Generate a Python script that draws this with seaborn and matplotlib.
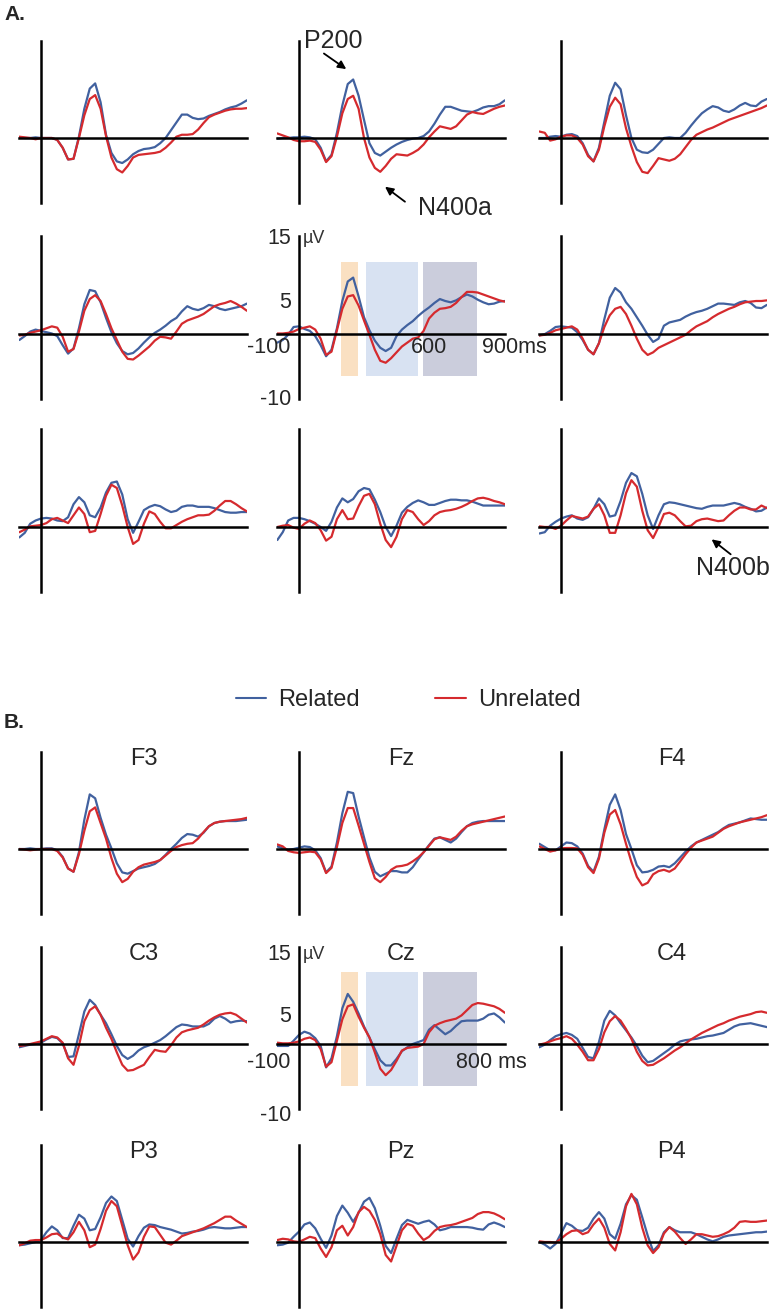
import numpy as np
import pandas as pd
import matplotlib
matplotlib.use("Agg")
import matplotlib.pyplot as plt
from matplotlib.lines import Line2D
import seaborn as sns

# time axis (ms), one sample every 25 ms
times = list(range(-100, 951, 25))

# --- A. nine unlabelled sites (row by row), related / unrelated (uV)
a1_rel = [0.1, 0.0, 0.0, 0.1, 0.0, 0.0, 0.0, -0.3, -1.5, -3.3, -3.2, 0.2, 4.5, 7.6, 8.4, 5.5, 0.5, -2.3, -3.6, -3.85, -3.3, -2.5, -2.0, -1.7, -1.6, -1.4, -0.8, 0.0, 1.2, 2.4, 3.6, 3.6, 3.1, 2.9, 3.0, 3.4, 3.7, 4.0, 4.4, 4.7, 4.9, 5.3, 5.8]
a1_unr = [0.2, 0.1, 0.0, -0.2, 0.0, 0.0, 0.0, -0.3, -1.5, -3.3, -3.2, 0.0, 3.5, 6.0, 6.6, 4.5, 0.3, -3.0, -4.8, -5.3, -4.3, -3.0, -2.6, -2.5, -2.4, -2.3, -2.1, -1.5, -0.7, 0.2, 0.5, 0.5, 0.6, 1.3, 2.3, 3.2, 3.6, 3.9, 4.2, 4.4, 4.5, 4.5, 4.6]
a2_rel = [-0.1, 0.0, 0.0, 0.1, 0.1, 0.2, 0.1, -0.2, -1.5, -3.6, -2.6, 0.8, 5.0, 8.3, 9.0, 6.5, 2.8, -0.8, -2.3, -2.7, -2.1, -1.5, -1.0, -0.6, -0.3, -0.1, 0.0, 0.3, 1.0, 2.2, 3.6, 4.8, 4.8, 4.5, 4.2, 4.1, 4.0, 4.3, 4.7, 4.9, 4.9, 5.2, 5.8]
a2_unr = [0.7, 0.4, 0.1, -0.3, -0.5, -0.5, -0.4, -0.6, -1.8, -3.7, -2.8, 0.2, 3.8, 6.0, 6.5, 4.5, 0.0, -3.0, -4.6, -5.2, -4.3, -3.2, -2.5, -2.6, -2.7, -2.3, -1.8, -1.0, 0.1, 1.0, 1.8, 1.6, 1.4, 1.8, 2.7, 3.6, 4.0, 3.8, 3.7, 4.1, 4.5, 4.8, 5.0]
a3_rel = [0.0, 0.0, 0.2, 0.3, 0.2, 0.5, 0.6, 0.3, -0.8, -2.6, -3.6, -1.5, 2.5, 6.5, 8.5, 7.5, 3.5, 0.0, -1.8, -2.2, -2.3, -1.8, -0.9, 0.0, 0.1, 0.0, 0.0, 0.8, 1.9, 2.9, 3.8, 4.4, 4.9, 4.7, 4.2, 4.0, 4.4, 5.0, 5.4, 5.0, 4.9, 5.6, 6.0]
a3_unr = [1.0, 0.8, -0.4, -0.2, 0.2, 0.4, 0.4, 0.0, -1.0, -2.8, -3.6, -1.8, 1.8, 4.8, 6.2, 5.2, 1.5, -1.3, -3.7, -5.2, -5.4, -4.3, -3.1, -3.3, -3.5, -3.2, -2.5, -1.4, -0.3, 0.5, 0.9, 1.3, 1.6, 2.0, 2.4, 2.8, 3.1, 3.4, 3.7, 4.0, 4.3, 4.6, 5.0]
a4_rel = [-1.0, -0.4, 0.3, 0.6, 0.4, 0.2, 0.0, -0.4, -1.8, -3.1, -2.3, 0.8, 4.5, 6.7, 6.5, 4.8, 2.4, 0.2, -1.5, -2.7, -3.2, -3.0, -2.3, -1.4, -0.6, 0.1, 0.6, 1.2, 1.9, 2.4, 3.4, 4.2, 3.8, 3.6, 3.9, 4.4, 4.2, 3.8, 3.6, 3.8, 4.0, 4.2, 4.6]
a4_unr = [-0.3, -0.2, 0.1, 0.3, 0.5, 0.8, 1.1, 0.9, -0.5, -2.8, -2.4, 0.3, 3.5, 5.3, 5.9, 5.0, 3.0, 0.8, -1.0, -2.8, -3.9, -4.0, -3.4, -2.7, -2.0, -1.1, -0.5, -0.6, -0.8, 0.3, 1.5, 2.0, 2.3, 2.6, 3.0, 3.6, 4.2, 4.5, 4.7, 5.0, 4.6, 4.1, 3.5]
a5_rel = [-1.4, -1.0, -0.2, 1.0, 1.1, 0.7, 0.4, -0.4, -1.8, -3.5, -2.5, 0.8, 5.0, 8.0, 8.6, 5.7, 2.5, 0.5, -1.1, -2.2, -2.7, -2.2, -0.4, 0.6, 1.3, 1.9, 2.7, 3.4, 4.0, 4.7, 5.3, 5.0, 4.8, 5.1, 5.6, 6.0, 5.7, 5.2, 4.8, 4.5, 4.6, 4.9, 5.0]
a5_unr = [0.0, 0.0, 0.1, 0.3, 0.7, 0.9, 1.1, 0.6, -0.8, -3.3, -2.8, 0.5, 3.8, 5.7, 5.9, 4.3, 2.0, -0.2, -2.5, -4.2, -4.5, -3.8, -2.9, -2.0, -1.4, -0.8, -0.6, 0.4, 2.3, 3.2, 3.8, 3.9, 4.1, 4.7, 5.6, 6.4, 6.4, 6.3, 6.0, 5.7, 5.4, 5.1, 4.9]
a6_rel = [-0.3, -0.1, 0.4, 1.0, 1.1, 1.0, 0.9, 0.2, -1.0, -2.5, -3.2, -1.5, 2.2, 5.5, 7.0, 6.3, 4.8, 3.8, 2.5, 1.2, -0.2, -1.3, -0.8, 1.2, 1.7, 1.9, 2.1, 2.6, 3.0, 3.3, 3.5, 3.8, 4.2, 4.6, 4.6, 4.5, 4.4, 4.8, 5.0, 4.7, 4.0, 3.9, 4.4]
a6_unr = [-0.3, -0.2, 0.1, 0.5, 0.7, 0.9, 1.1, 0.6, -0.8, -2.5, -3.2, -1.5, 1.0, 2.8, 3.8, 4.1, 3.0, 1.2, -0.8, -2.5, -3.3, -2.9, -2.2, -1.8, -1.4, -1.0, -0.6, -0.2, 0.5, 1.1, 1.5, 1.9, 2.5, 3.0, 3.4, 3.8, 4.1, 4.5, 4.8, 4.9, 5.0, 5.0, 5.1]
a7_rel = [-1.6, -0.9, 0.5, 1.0, 1.3, 1.4, 1.3, 1.0, 0.9, 1.5, 3.5, 4.6, 3.8, 1.8, 1.5, 3.0, 5.3, 6.8, 7.0, 5.0, 1.2, -0.9, 0.8, 2.6, 3.1, 3.4, 3.2, 2.7, 2.3, 2.5, 3.1, 3.3, 3.3, 3.1, 3.1, 3.1, 2.9, 2.6, 2.3, 2.2, 2.2, 2.3, 2.3]
a7_unr = [-0.8, -0.4, 0.1, 0.2, 0.3, 0.6, 1.2, 1.4, 1.0, 0.6, 1.8, 3.0, 2.0, -0.8, -0.6, 2.0, 4.8, 6.5, 6.0, 3.3, 0.0, -2.6, -2.0, 0.5, 2.4, 2.0, 0.8, -0.2, -0.2, 0.3, 0.8, 1.2, 1.5, 1.8, 1.8, 1.9, 2.5, 3.3, 4.0, 4.0, 3.5, 2.9, 2.4]
a8_rel = [-2.0, -0.8, 1.0, 1.4, 1.4, 1.2, 0.9, 0.5, 0.0, -0.6, 0.8, 3.0, 4.4, 3.8, 4.3, 5.5, 6.0, 5.8, 4.2, 2.3, 0.0, -1.4, 0.2, 2.2, 3.1, 3.7, 4.1, 3.8, 3.4, 3.4, 3.7, 4.0, 4.2, 4.2, 4.1, 4.1, 3.9, 3.6, 3.3, 3.3, 3.3, 3.3, 3.3]
a8_unr = [0.0, 0.2, 0.3, -0.1, -0.3, 0.5, 1.0, 0.6, -0.5, -2.1, -1.5, 1.2, 2.6, 1.2, 1.3, 3.2, 4.8, 5.1, 3.5, 0.5, -2.0, -3.1, -1.5, 1.2, 2.6, 2.3, 1.2, 0.3, 0.9, 1.8, 2.3, 2.5, 2.6, 2.8, 3.1, 3.5, 4.0, 4.4, 4.5, 4.3, 4.0, 3.8, 3.5]
a9_rel = [-1.0, -0.8, 0.2, 0.8, 1.3, 1.6, 1.8, 1.3, 1.1, 1.5, 2.8, 4.4, 3.5, 1.6, 1.8, 4.0, 6.8, 8.3, 7.8, 5.1, 1.8, -0.3, 1.8, 3.5, 3.8, 3.7, 3.5, 3.3, 3.1, 2.9, 2.8, 3.1, 3.3, 3.3, 3.3, 3.5, 3.7, 3.5, 3.1, 2.8, 2.4, 2.5, 3.0]
a9_unr = [0.1, 0.0, 0.0, -0.3, 0.2, 1.0, 1.7, 1.5, 1.3, 1.6, 2.8, 3.5, 1.8, -0.9, -0.9, 1.8, 5.2, 7.2, 6.2, 2.5, -0.5, -1.7, 0.0, 2.0, 2.2, 1.8, 0.9, 0.1, 0.2, 0.9, 1.2, 1.3, 1.1, 0.9, 1.0, 1.8, 2.5, 3.0, 3.0, 2.7, 2.7, 3.3, 2.9]

# --- B. named electrodes
f3_rel = [0.0, 0.0, 0.1, 0.0, 0.0, 0.1, 0.1, -0.2, -1.2, -3.0, -3.5, -0.5, 4.5, 8.4, 7.8, 4.8, 2.2, 0.1, -2.2, -3.6, -3.8, -3.4, -3.0, -2.8, -2.6, -2.3, -1.7, -0.9, 0.0, 0.8, 1.7, 2.3, 2.2, 1.9, 2.5, 3.5, 4.0, 4.2, 4.3, 4.3, 4.3, 4.4, 4.5]
f3_unr = [0.0, -0.1, -0.2, -0.1, 0.0, 0.0, 0.0, -0.3, -1.3, -3.0, -3.5, -0.8, 2.8, 5.8, 6.4, 4.0, 1.6, -1.4, -3.8, -5.1, -4.6, -3.5, -2.8, -2.4, -2.2, -2.0, -1.7, -1.0, -0.3, 0.3, 0.6, 0.8, 0.9, 1.6, 2.6, 3.5, 4.0, 4.2, 4.3, 4.4, 4.5, 4.6, 4.8]
fz_rel = [0.4, 0.1, -0.1, 0.0, 0.2, 0.4, 0.3, -0.2, -1.4, -3.6, -2.7, 1.0, 5.5, 8.8, 8.6, 5.0, 1.8, -1.3, -3.5, -4.2, -3.8, -3.4, -3.4, -3.6, -3.6, -2.8, -1.6, -0.5, 0.6, 1.6, 1.8, 1.4, 1.0, 1.6, 2.6, 3.5, 4.0, 4.2, 4.3, 4.3, 4.3, 4.3, 4.3]
fz_unr = [0.7, 0.4, -0.3, -0.5, -0.6, -0.5, -0.4, -0.5, -1.6, -3.7, -2.9, 0.3, 4.0, 6.3, 6.3, 3.6, 0.8, -2.0, -4.5, -5.1, -4.3, -3.2, -2.7, -2.6, -2.4, -1.9, -1.3, -0.5, 0.5, 1.5, 1.8, 1.6, 1.4, 1.9, 2.8, 3.5, 3.8, 4.0, 4.2, 4.4, 4.6, 4.8, 5.0]
f4_rel = [0.8, 0.3, -0.2, -0.2, 0.4, 1.0, 0.9, 0.4, -0.7, -2.6, -3.5, -1.2, 3.0, 6.8, 8.4, 6.0, 2.3, 0.0, -2.5, -3.6, -3.5, -3.2, -2.7, -2.6, -2.8, -2.2, -1.3, -0.4, 0.4, 1.0, 1.4, 1.8, 2.2, 2.6, 3.2, 3.7, 3.9, 4.1, 4.4, 4.7, 4.6, 4.5, 4.5]
f4_unr = [0.4, 0.0, -0.4, -0.2, 0.1, 0.15, 0.15, 0.1, -0.9, -2.8, -3.7, -1.5, 2.5, 5.3, 6.0, 3.8, 0.8, -2.0, -4.3, -5.6, -5.2, -3.9, -3.4, -3.2, -3.5, -3.0, -1.9, -0.8, 0.2, 1.0, 1.3, 1.6, 1.9, 2.5, 3.1, 3.5, 3.8, 4.1, 4.3, 4.5, 4.7, 4.9, 5.2]
c3_rel = [-0.5, -0.3, -0.1, 0.0, 0.2, 0.7, 1.1, 0.9, 0.1, -2.0, -1.9, 1.5, 5.0, 6.8, 6.0, 4.5, 3.2, 1.5, -0.3, -1.7, -2.3, -1.8, -1.0, -0.5, -0.2, 0.2, 0.6, 1.2, 1.9, 2.6, 3.0, 2.9, 2.7, 2.7, 2.7, 3.1, 3.9, 4.3, 3.9, 3.3, 3.5, 3.6, 3.5]
c3_unr = [-0.3, -0.2, 0.0, 0.2, 0.4, 0.8, 1.2, 1.0, 0.2, -2.2, -3.2, -0.3, 3.5, 5.2, 5.8, 4.5, 2.5, 0.8, -1.3, -3.2, -4.1, -4.0, -3.6, -3.2, -2.0, -0.9, -1.1, -1.2, -0.2, 1.0, 1.8, 2.1, 2.3, 2.5, 3.0, 3.6, 4.1, 4.5, 4.7, 4.8, 4.5, 3.9, 3.3]
cz_rel = [-0.3, -0.3, -0.3, 0.5, 1.4, 1.9, 1.6, 0.9, -0.3, -3.6, -2.2, 1.2, 5.5, 7.7, 6.5, 4.7, 2.7, 1.0, -0.8, -2.5, -3.3, -3.3, -2.3, -1.1, -0.5, 0.0, 0.3, 0.6, 2.2, 2.9, 2.2, 1.5, 2.0, 2.8, 3.5, 3.6, 3.6, 3.6, 3.9, 4.5, 4.7, 4.1, 3.3]
cz_unr = [0.2, 0.1, 0.1, 0.2, 0.4, 0.8, 1.0, 0.6, -0.8, -3.5, -2.8, 0.5, 3.8, 5.8, 6.1, 4.2, 2.5, 1.0, -1.3, -3.8, -4.8, -4.0, -2.6, -1.0, -0.6, -0.5, -0.4, 0.0, 1.8, 2.8, 3.2, 3.5, 3.7, 3.9, 4.4, 5.2, 6.0, 6.3, 6.2, 6.0, 5.8, 5.4, 4.8]
c4_rel = [-0.5, -0.1, 0.6, 1.2, 1.5, 1.7, 1.4, 0.8, -0.6, -2.0, -2.2, 0.3, 3.6, 5.1, 4.4, 3.2, 2.1, 1.0, -0.3, -1.8, -2.8, -2.6, -2.0, -1.4, -0.8, -0.1, 0.4, 0.6, 0.7, 0.8, 1.0, 1.2, 1.3, 1.5, 1.7, 2.2, 2.7, 3.0, 3.1, 3.2, 3.0, 2.8, 2.6]
c4_unr = [-0.1, 0.1, 0.4, 0.7, 0.9, 1.2, 0.8, -0.1, -1.2, -2.5, -2.5, -0.8, 1.8, 3.5, 4.3, 3.6, 2.3, 0.8, -1.2, -2.6, -3.3, -3.2, -2.7, -2.2, -1.6, -1.0, -0.5, 0.1, 0.7, 1.2, 1.7, 2.1, 2.5, 2.9, 3.2, 3.6, 3.9, 4.2, 4.4, 4.6, 4.9, 5.0, 4.8]
p3_rel = [-0.5, -0.4, -0.2, 0.0, 0.3, 1.5, 2.4, 1.8, 0.6, 0.6, 2.5, 4.2, 3.6, 1.8, 2.0, 3.8, 6.0, 7.0, 6.3, 3.4, 0.5, -0.7, 0.9, 2.2, 2.7, 2.6, 2.3, 2.1, 1.9, 1.6, 1.3, 1.4, 1.6, 1.7, 1.9, 2.2, 2.3, 2.2, 2.1, 2.1, 2.2, 2.3, 2.3]
p3_unr = [-0.5, -0.2, 0.2, 0.3, 0.3, 0.7, 1.2, 1.3, 0.7, 0.4, 1.5, 3.1, 1.8, -0.8, -0.4, 2.0, 4.8, 6.3, 5.5, 2.5, -0.5, -2.7, -1.6, 0.8, 2.4, 2.3, 1.1, -0.1, -0.4, 0.2, 0.9, 1.2, 1.5, 1.8, 2.1, 2.5, 2.9, 3.4, 3.9, 3.9, 3.3, 2.8, 2.3]
pz_rel = [-0.5, -0.4, -0.1, 0.8, 1.6, 2.7, 3.0, 2.1, 0.5, -0.9, 1.0, 4.0, 5.6, 4.5, 3.1, 4.5, 6.2, 6.8, 5.2, 2.5, -0.6, -1.7, 0.5, 2.6, 3.4, 3.1, 2.8, 3.1, 3.3, 2.7, 1.8, 2.0, 2.3, 2.3, 2.3, 2.3, 2.2, 2.0, 1.9, 2.7, 3.0, 2.7, 2.3]
pz_unr = [0.3, 0.5, 0.4, 0.1, 0.0, 0.4, 0.8, 0.6, -1.0, -2.3, -0.8, 1.8, 2.5, 1.0, 2.3, 4.6, 5.4, 4.8, 3.4, 1.2, -2.0, -3.0, -0.6, 1.8, 2.8, 2.5, 1.3, 0.3, 0.8, 1.7, 2.3, 2.5, 2.6, 2.8, 3.1, 3.4, 3.7, 4.3, 4.6, 4.6, 4.4, 4.0, 3.5]
p4_rel = [0.0, -0.4, -1.0, -0.3, 1.3, 2.9, 2.5, 1.8, 1.7, 2.2, 3.6, 4.6, 3.6, 1.2, 0.5, 2.8, 5.8, 7.2, 6.5, 3.8, 1.0, -1.4, -0.5, 1.5, 2.3, 1.8, 1.5, 1.5, 1.5, 1.2, 0.8, 0.4, 0.1, 0.4, 0.8, 1.0, 1.1, 1.2, 1.3, 1.4, 1.5, 1.5, 1.6]
p4_unr = [0.1, 0.0, 0.0, -0.1, 0.5, 1.2, 1.7, 1.8, 1.2, 1.5, 2.7, 3.6, 2.2, -0.3, -1.3, 1.5, 5.5, 7.4, 5.8, 2.2, -0.5, -1.7, -0.8, 1.3, 2.3, 1.6, 0.6, -0.3, 0.4, 1.2, 1.2, 1.0, 0.8, 0.9, 1.2, 1.6, 2.2, 3.1, 3.2, 3.1, 3.1, 3.2, 3.3]

b_titles = ["F3", "Fz", "F4", "C3", "Cz", "C4", "P3", "Pz", "P4"]

# analysis windows (ms) shaded in the centre panels
windows = [(195, 270), (310, 550), (570, 820)]
window_colors = ["#fae0c2", "#d8e2f2", "#cbcddc"]

conditions = ["Related", "Unrelated"]
BLUE = "#41619f"
RED = "#d52a2e"

sns.set_style("white")
plt.rcParams["font.family"] = ["Liberation Sans", "DejaVu Sans"]
NARROW = ["Liberation Sans Narrow", "Liberation Sans", "DejaVu Sans"]

W, H = 774, 1312
fig = plt.figure(figsize=(W / 100, H / 100), dpi=100)

PX_MS = 0.2167
PX_UV = 6.5
col_x0 = [41, 299, 561]
zero_a = [138, 333.5, 527]
zero_b = [849, 1044, 1242]


def make_ax(col, zero):
    left = (col_x0[col] - 100 * PX_MS) / W
    bottom = 1 - (zero + 10 * PX_UV) / H
    return fig.add_axes([left, bottom, 1050 * PX_MS / W, 25 * PX_UV / H])


def draw(ax, rel, unr, col, center=False):
    d = pd.DataFrame({"time": times + times, "uV": rel + unr,
                      "cond": [conditions[0]] * len(rel) + [conditions[1]] * len(unr)})
    sns.lineplot(data=d, x="time", y="uV", hue="cond", hue_order=conditions,
                 palette=[BLUE, RED], estimator=None, legend=False,
                 linewidth=1.6, ax=ax)
    for ln in ax.get_lines():
        ln.set_solid_joinstyle("round")
        ln.set_solid_capstyle("round")
    ax.set_xlim(-100, 950)
    ax.set_ylim(-10, 15)
    ax.set_xlabel("")
    ax.set_ylabel("")
    ax.set_facecolor("none")
    for s in ["top", "right"]:
        ax.spines[s].set_visible(False)
    for s in ["left", "bottom"]:
        ax.spines[s].set_position(("data", 0))
        ax.spines[s].set_linewidth(1.8)
        ax.spines[s].set_color("black")
    ax.set_yticks([-10, -5, 5, 10, 15])
    ax.set_yticklabels([])
    ax.tick_params(axis="y", direction="out", length=2, width=1, color="black")
    if col == 1:
        ax.set_xticks([200, 400, 600, 800])
        ax.set_xticklabels([])
        ax.tick_params(axis="x", direction="out", length=2.5, width=1, color="black")
    else:
        ax.set_xticks([])
    if center:
        for (t0, t1), c in zip(windows, window_colors):
            ax.fill_between([t0, t1], -6.5, 11.0, color=c, lw=0, zorder=0)


# ---- panel A
axes_a = []
a_data = [(a1_rel, a1_unr), (a2_rel, a2_unr), (a3_rel, a3_unr),
          (a4_rel, a4_unr), (a5_rel, a5_unr), (a6_rel, a6_unr),
          (a7_rel, a7_unr), (a8_rel, a8_unr), (a9_rel, a9_unr)]
for i, (rel, unr) in enumerate(a_data):
    r, c = divmod(i, 3)
    ax = make_ax(c, zero_a[r])
    draw(ax, rel, unr, c, center=(i == 4))
    axes_a.append(ax)

tk = dict(fontsize=15.5, family=NARROW)
ax = axes_a[4]
ax.text(-37, 14.6, "15", ha="right", va="center", **tk)
ax.text(-37, 4.8, "5", ha="right", va="center", **tk)
ax.text(-37, -10.2, "-10", ha="right", va="center", **tk)
ax.text(18, 14.6, "µV", ha="left", va="center", fontsize=13, color="#333333")
ax.text(-140, -2.1, "-100", ha="center", va="center", **tk)
ax.text(600, -2.1, "600", ha="center", va="center", **tk)
ax.text(846, -2.1, "900ms", ha="left", va="center", **tk)

arrow = dict(arrowstyle="-|>", color="black", lw=1.3, mutation_scale=12,
             shrinkA=0, shrinkB=0)
ax = axes_a[1]
ax.text(157, 14.9, "P200", ha="center", va="center", fontsize=18)
ax.annotate("", xy=(218, 10.6), xytext=(115, 13.0), arrowprops=arrow)
ax.text(720, -10.8, "N400a", ha="center", va="center", fontsize=18)
ax.annotate("", xy=(397, -7.5), xytext=(489, -9.8), arrowprops=arrow)
ax = axes_a[8]
ax.text(794, -6.3, "N400b", ha="center", va="center", fontsize=18)
ax.annotate("", xy=(695, -1.9), xytext=(783, -4.2), arrowprops=arrow)

# ---- panel B
axes_b = []
b_data = [(f3_rel, f3_unr), (fz_rel, fz_unr), (f4_rel, f4_unr),
          (c3_rel, c3_unr), (cz_rel, cz_unr), (c4_rel, c4_unr),
          (p3_rel, p3_unr), (pz_rel, pz_unr), (p4_rel, p4_unr)]
title_x = [475, 470, 512]
for i, (rel, unr) in enumerate(b_data):
    r, c = divmod(i, 3)
    ax = make_ax(c, zero_b[r])
    draw(ax, rel, unr, c, center=(i == 4))
    ax.text(title_x[c], 13.8, b_titles[i], ha="center", va="center",
            fontsize=17, family=NARROW)
    axes_b.append(ax)

ax = axes_b[4]
ax.text(-37, 13.7, "15", ha="right", va="center", **tk)
ax.text(-37, 4.3, "5", ha="right", va="center", **tk)
ax.text(-37, -11.0, "-10", ha="right", va="center", **tk)
ax.text(18, 13.7, "µV", ha="left", va="center", fontsize=13, color="#333333")
ax.text(-140, -2.9, "-100", ha="center", va="center", **tk)
ax.text(725, -2.9, "800 ms", ha="left", va="center", **tk)

# ---- labels and legend
fig.text(4 / W, 1 - 5 / H, "A.", fontsize=15, fontweight="bold", ha="left", va="top")
fig.text(4 / W, 1 - 713 / H, "B.", fontsize=15, fontweight="bold", ha="left", va="top")

handles = [Line2D([], [], color=BLUE, lw=1.5), Line2D([], [], color=RED, lw=1.5)]
fig.legend(handles, conditions, loc="center", bbox_to_anchor=(408 / W, 1 - 700 / H),
           ncol=2, frameon=False, fontsize=17, handlelength=1.3,
           handletextpad=0.5, columnspacing=3.2)

fig.savefig("out.png", dpi=100)
